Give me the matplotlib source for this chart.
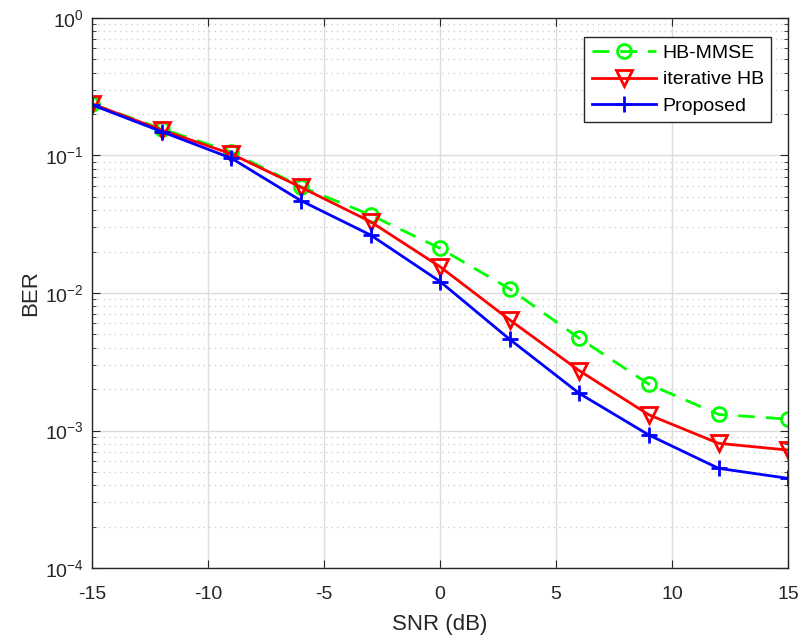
import numpy as np
import matplotlib
matplotlib.use('Agg')
import matplotlib.pyplot as plt
from matplotlib.ticker import LogLocator, NullFormatter

plt.rcParams['font.family'] = ['Liberation Sans', 'DejaVu Sans']
plt.rcParams['axes.unicode_minus'] = False
plt.rcParams['mathtext.default'] = 'regular'

# data
snr = [-15, -12, -9, -6, -3, 0, 3, 6, 9, 12, 15]
ber_mmse = [0.237, 0.156, 0.106, 0.0593, 0.0369, 0.0211, 0.0107, 0.00468, 0.00217, 0.00131, 0.00121]
ber_iter = [0.237, 0.153, 0.1026, 0.0587, 0.033, 0.0155, 0.00637, 0.00272, 0.0013, 0.000807, 0.000721]
ber_prop = [0.233, 0.149, 0.0955, 0.0469, 0.0264, 0.0121, 0.0046, 0.00186, 0.000927, 0.000531, 0.000449]

fig = plt.figure(figsize=(8.01, 6.39), dpi=100)
ax = fig.add_axes([0.115, 0.111, 0.869, 0.861])

ax.semilogy(snr, ber_mmse, '--o', color=(0, 1, 0), lw=2, ms=10, mfc='none', mew=2,
            dashes=(6, 4), label='HB-MMSE')
ax.semilogy(snr, ber_iter, '-v', color=(1, 0, 0), lw=2, ms=11, mfc='none', mew=2, label='iterative HB')
ax.semilogy(snr, ber_prop, '-+', color=(0, 0, 1), lw=2, ms=11, mew=2, label='Proposed')

ax.set_xlim(-15, 15)
ax.set_ylim(1e-4, 1)
ax.set_xticks([-15, -10, -5, 0, 5, 10, 15])
ax.yaxis.set_major_locator(LogLocator(base=10, numticks=10))
ax.yaxis.set_minor_locator(LogLocator(base=10, subs=np.arange(2, 10), numticks=20))
ax.yaxis.set_minor_formatter(NullFormatter())

ax.grid(True, which='major', color='#dcdcdc', lw=1, ls='-')
ax.grid(True, which='minor', color='#d0d0d0', lw=1, ls=(0, (1, 3)))
ax.set_axisbelow(True)

ax.tick_params(which='both', direction='in', top=True, right=True, labelsize=14, colors='#262626')
ax.tick_params(which='major', length=6)
ax.tick_params(which='minor', length=3)
ax.tick_params(axis='x', pad=13)
ax.tick_params(axis='y', pad=6)
for s in ax.spines.values():
    s.set_color('#262626')
    s.set_linewidth(1)

ax.set_xlabel('SNR (dB)', fontsize=16, color='#262626', labelpad=8)
ax.set_ylabel('BER', fontsize=16, color='#262626', labelpad=3)

leg = ax.legend(loc='upper right', bbox_to_anchor=(0.976, 0.966), borderaxespad=0, fontsize=14,
                fancybox=False, framealpha=1, edgecolor='#262626', handlelength=3.3, borderpad=0.4,
                labelspacing=0.45, handletextpad=0.35)
leg.get_frame().set_linewidth(1)

fig.savefig('out.png', dpi=100)
